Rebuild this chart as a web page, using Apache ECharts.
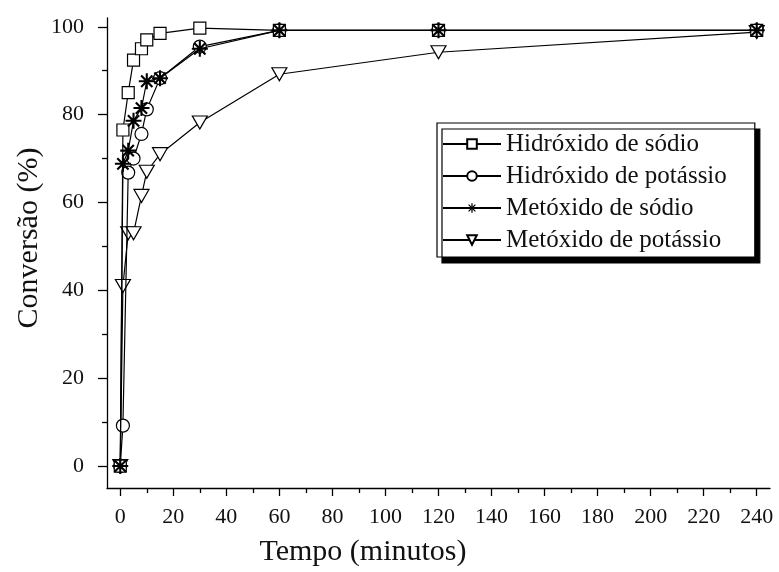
<!DOCTYPE html>
<html>
<head>
<meta charset="utf-8">
<script src="https://cdn.jsdelivr.net/npm/echarts@6/dist/echarts.min.js"></script>
<style>
  html, body { margin: 0; padding: 0; background: #fff; }
  #chart { width: 779px; height: 572px; }
</style>
</head>
<body>
<div id="chart"></div>
<script>
// Reaction time (minutes) and conversion (%) for each catalyst
const tempo = [0, 1, 3, 5, 8, 10, 15, 30, 60, 120, 240];
const hidroxidoSodio    = [0, 76.5, 85.0, 92.4, 95.0, 97.0, 98.5, 99.7, 99.2, 99.2, 99.2];
const hidroxidoPotassio = [0, 9.2, 66.8, 70.0, 75.6, 81.2, 88.3, 95.5, 99.2, 99.2, 99.2];
const metoxidoSodio     = [0, 68.8, 71.8, 78.6, 81.5, 87.6, 88.3, 95.0, 99.2, 99.2, 99.2];
const metoxidoPotassio  = [0, 41.0, 53.0, 53.0, 61.5, 67.0, 71.0, 78.2, 89.2, 94.2, 98.8];

const serieNomes = ['Hidróxido de sódio', 'Hidróxido de potássio', 'Metóxido de sódio', 'Metóxido de potássio'];

const xMajor = [0, 20, 40, 60, 80, 100, 120, 140, 160, 180, 200, 220, 240];
const xMinor = [10, 30, 50, 70, 90, 110, 130, 150, 170, 190, 210, 230];
const yMajor = [0, 20, 40, 60, 80, 100];
const yMinor = [10, 30, 50, 70, 90];

const SERIF = '"Liberation Serif", "DejaVu Serif", serif';

// eight-armed asterisk marker
const asterisco = 'path://' +
  'M-1.3,-10 L1.3,-10 L1.3,10 L-1.3,10 Z ' +
  'M-10,-1.3 L10,-1.3 L10,1.3 L-10,1.3 Z ' +
  'M-6.1,-8.0 L8.0,6.1 L6.1,8.0 L-8.0,-6.1 Z ' +
  'M-8.0,6.1 L6.1,-8.0 L8.0,-6.1 L-6.1,8.0 Z ' +
  'M-2.8,-2.8 L2.8,-2.8 L2.8,2.8 L-2.8,2.8 Z';

function pares(valores) {
  return tempo.map((t, i) => [t, valores[i]]);
}

const hollow = { color: '#fff', borderColor: '#000', borderWidth: 1.2 };
const linha = { color: '#000', width: 1.2 };

const chart = echarts.init(document.getElementById('chart'), null, { renderer: 'canvas' });

const xBase = {
  type: 'value', min: -5, max: 245, position: 'bottom',
  splitLine: { show: false }
};
const yBase = {
  type: 'value', min: -5, max: 102, position: 'left',
  splitLine: { show: false }
};
const tickLine = { color: '#000', width: 1.3 };

chart.setOption({
  animation: false,
  backgroundColor: '#fff',
  grid: { left: 107, right: 9, top: 18, bottom: 84, containLabel: false },
  xAxis: [
    Object.assign({}, xBase, {
      axisLine: { show: true, onZero: false, lineStyle: { color: '#000', width: 1.3 } },
      axisTick: { show: true, inside: false, length: 8, customValues: xMajor, lineStyle: tickLine },
      axisLabel: { show: true, margin: 18, customValues: xMajor, color: '#111', fontFamily: SERIF, fontSize: 22 }
    }),
    Object.assign({}, xBase, {
      axisLine: { show: false, onZero: false },
      axisTick: { show: true, inside: false, length: 5, customValues: xMinor, lineStyle: tickLine },
      axisLabel: { show: false }
    })
  ],
  yAxis: [
    Object.assign({}, yBase, {
      axisLine: { show: true, onZero: false, lineStyle: { color: '#000', width: 1.3 } },
      axisTick: { show: true, inside: false, length: 9, customValues: yMajor, lineStyle: tickLine },
      axisLabel: { show: true, margin: 23, customValues: yMajor, color: '#111', fontFamily: SERIF, fontSize: 22 }
    }),
    Object.assign({}, yBase, {
      axisLine: { show: false, onZero: false },
      axisTick: { show: true, inside: false, length: 5, customValues: yMinor, lineStyle: tickLine },
      axisLabel: { show: false }
    })
  ],
  legend: {
    orient: 'vertical',
    left: 437, top: 123,
    padding: [8, 28, 4, 5],
    itemGap: 6,
    itemWidth: 58,
    itemHeight: 12,
    backgroundColor: '#fff',
    borderColor: '#000',
    borderWidth: 1.2,
    borderRadius: 0,
    shadowColor: '#000',
    shadowBlur: 0,
    shadowOffsetX: 5,
    shadowOffsetY: 6,
    textStyle: { color: '#111', fontFamily: SERIF, fontSize: 25, lineHeight: 26, padding: [0, 0, 0, 0] },
    data: serieNomes
  },
  graphic: [
    {
      type: 'text',
      x: 14, y: 238,
      rotation: Math.PI / 2,
      style: { text: 'Conversão (%)', fill: '#111', font: '30px ' + SERIF, align: 'center', verticalAlign: 'top' }
    },
    {
      type: 'text',
      x: 363, y: 537,
      style: { text: 'Tempo (minutos)', fill: '#111', font: '30px ' + SERIF, align: 'center', verticalAlign: 'top' }
    }
  ],
  series: [
    {
      name: serieNomes[0], type: 'line', xAxisIndex: 0, yAxisIndex: 0,
      data: pares(hidroxidoSodio),
      symbol: 'rect', symbolSize: 12,
      itemStyle: hollow, lineStyle: linha, z: 5
    },
    {
      name: serieNomes[1], type: 'line', xAxisIndex: 0, yAxisIndex: 0,
      data: pares(hidroxidoPotassio),
      symbol: 'circle', symbolSize: 13,
      itemStyle: hollow, lineStyle: linha, z: 4
    },
    {
      name: serieNomes[2], type: 'line', xAxisIndex: 0, yAxisIndex: 0,
      data: pares(metoxidoSodio),
      symbol: asterisco, symbolSize: 16,
      itemStyle: { color: '#000' }, lineStyle: linha, z: 6
    },
    {
      name: serieNomes[3], type: 'line', xAxisIndex: 0, yAxisIndex: 0,
      data: pares(metoxidoPotassio),
      symbol: 'triangle', symbolRotate: 180, symbolSize: [15, 13],
      itemStyle: hollow, lineStyle: linha, z: 3
    }
  ]
});
</script>
</body>
</html>
